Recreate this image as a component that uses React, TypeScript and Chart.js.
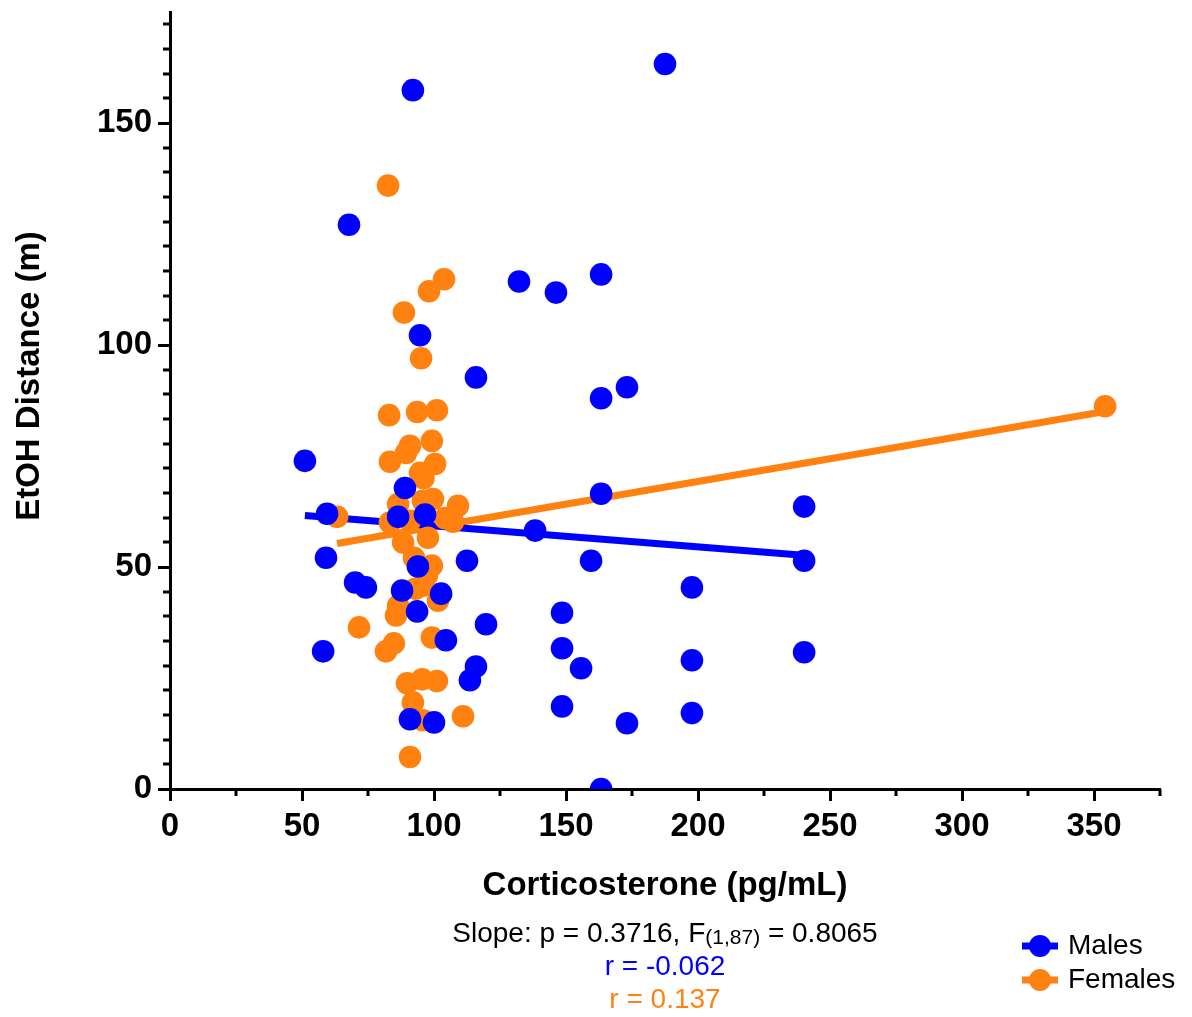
import React, { useEffect, useRef } from 'react';
import { Chart, registerables } from 'chart.js';

Chart.register(...registerables);

// ---------- data ----------
const maleX = [51.1, 59.5, 59.1, 58.0, 67.8, 92.0, 70.1, 74.2, 89.0, 86.4, 96.6, 87.9, 93.9, 93.6, 102.7, 90.9, 100.0, 104.5, 94.7, 115.9, 112.5, 119.7, 115.9, 113.6, 132.2, 146.2, 138.3, 148.5, 148.5, 148.5, 155.7, 159.5, 163.3, 163.3, 163.3, 163.3, 173.1, 173.1, 187.5, 197.7, 197.7, 197.7, 240.2, 240.2, 240.2];
const maleY = [73.9, 62.0, 52.1, 31.0, 127.1, 157.4, 46.5, 45.4, 67.8, 61.3, 61.8, 44.7, 50.1, 40.0, 44.0, 15.7, 15.0, 33.5, 102.2, 92.7, 51.4, 37.1, 27.6, 24.5, 114.3, 111.8, 58.2, 39.7, 31.7, 18.6, 27.2, 51.4, 115.9, 88.0, 66.5, 0, 90.5, 14.8, 163.3, 45.4, 29.0, 17.1, 63.6, 51.4, 30.8];

const femaleX = [82.6, 103.8, 98.1, 88.6, 95.1, 83.0, 93.6, 101.1, 99.2, 90.9, 89.4, 83.3, 100.4, 94.7, 86.4, 99.6, 109.1, 63.3, 83.3, 107.2, 97.7, 90.9, 92.4, 97.3, 95.8, 101.5, 86.4, 85.6, 71.6, 81.8, 84.8, 99.2, 89.8, 95.5, 101.1, 92.0, 95.8, 111.0, 90.9, 354.2, 95.8, 93.0, 99.2, 88.3, 104.2, 96.0];
const femaleY = [135.9, 114.8, 112.1, 107.3, 97.0, 84.2, 84.9, 85.3, 78.4, 77.3, 75.7, 73.7, 73.2, 71.2, 64.2, 65.3, 63.8, 61.3, 60.0, 60.2, 56.6, 60.4, 52.1, 48.1, 45.8, 42.4, 41.3, 39.1, 36.4, 31.0, 32.8, 34.1, 23.8, 24.7, 24.3, 19.5, 15.5, 16.4, 7.2, 86.2, 64.9, 45.1, 50.3, 55.5, 61.0, 70.0];

const maleFitX = [51.1, 241];
const maleFitY = [61.6, 52.6];
const femaleFitX = [63.3, 353];
const femaleFitY = [55.3, 84.9];

const seriesNames = ['Males', 'Females'];
const xTitle = 'Corticosterone (pg/mL)';
const yTitle = 'EtOH Distance (m)';
const statMain = 'Slope: p = 0.3716, F';
const statSub = '(1,87)';
const statEnd = ' = 0.8065';
const rMales = 'r = -0.062';
const rFemales = 'r = 0.137';

const X_MAX = 375;
const Y_MAX = 175;
const X_MAJOR = 50;
const Y_MAJOR = 50;
const X_MINOR = 25;
const Y_MINOR_DIV = 9;

const BLUE = '#0000FF';
const ORANGE = '#FF8210';
const FONT = "'Liberation Sans', Arial, sans-serif";

const toPts = (xs: number[], ys: number[]) => xs.map((x, i) => ({ x, y: ys[i] }));

const overlay = {
  id: 'overlay',
  afterDraw(chart: any) {
    const ctx = chart.ctx as CanvasRenderingContext2D;
    const xs = chart.scales.x;
    const ys = chart.scales.y;
    const area = chart.chartArea;
    ctx.save();
    // minor ticks
    ctx.strokeStyle = '#000';
    ctx.lineWidth = 3;
    for (let v = X_MINOR; v <= X_MAX + 0.01; v += X_MAJOR) {
      const px = Math.round(xs.getPixelForValue(v));
      ctx.beginPath();
      ctx.moveTo(px, area.bottom);
      ctx.lineTo(px, area.bottom + 7);
      ctx.stroke();
    }
    const ym = Y_MAJOR / Y_MINOR_DIV;
    for (let k = 1; k * ym <= Y_MAX; k++) {
      if (k % Y_MINOR_DIV === 0) continue;
      const py = Math.round(ys.getPixelForValue(k * ym));
      ctx.beginPath();
      ctx.moveTo(area.left - 7, py);
      ctx.lineTo(area.left, py);
      ctx.stroke();
    }
    // y title
    ctx.fillStyle = '#000';
    ctx.font = `bold 33px ${FONT}`;
    ctx.textAlign = 'center';
    ctx.textBaseline = 'middle';
    ctx.save();
    ctx.translate(30, 376);
    ctx.rotate(-Math.PI / 2);
    ctx.fillText(yTitle, 0, 0);
    ctx.restore();

    // stats annotation
    const cx = (area.left + area.right) / 2;
    ctx.textAlign = 'left';
    ctx.textBaseline = 'middle';
    const mainFont = `28px ${FONT}`;
    const subFont = `21px ${FONT}`;
    ctx.font = mainFont;
    const w1 = ctx.measureText(statMain).width;
    const w3 = ctx.measureText(statEnd).width;
    ctx.font = subFont;
    const w2 = ctx.measureText(statSub).width;
    let sx = cx - (w1 + w2 + w3) / 2;
    const sy = 934;
    ctx.font = mainFont;
    ctx.fillText(statMain, sx, sy);
    sx += w1;
    ctx.font = subFont;
    ctx.fillText(statSub, sx, sy + 4);
    sx += w2;
    ctx.font = mainFont;
    ctx.fillText(statEnd, sx, sy);

    ctx.textAlign = 'center';
    ctx.fillStyle = BLUE;
    ctx.fillText(rMales, cx, 967);
    ctx.fillStyle = ORANGE;
    ctx.fillText(rFemales, cx, 1000);

    // legend
    const colors = [BLUE, ORANGE];
    const ly = [946, 980];
    seriesNames.forEach((name, i) => {
      ctx.strokeStyle = colors[i];
      ctx.fillStyle = colors[i];
      ctx.lineWidth = 7;
      ctx.beginPath();
      ctx.moveTo(1022, ly[i]);
      ctx.lineTo(1058, ly[i]);
      ctx.stroke();
      ctx.beginPath();
      ctx.arc(1040, ly[i], 11, 0, Math.PI * 2);
      ctx.fill();
      ctx.fillStyle = '#000';
      ctx.textAlign = 'left';
      ctx.font = mainFont;
      ctx.fillText(name, 1068, ly[i]);
    });
    ctx.restore();
  },
};

export default function App() {
  const ref = useRef<HTMLCanvasElement | null>(null);
  useEffect(() => {
    if (!ref.current) return;
    const chart = new Chart(ref.current, {
      type: 'scatter',
      data: {
        datasets: [
          {
            label: seriesNames[0],
            data: toPts(maleX, maleY),
            backgroundColor: BLUE,
            borderColor: BLUE,
            pointRadius: 11.3,
            pointBorderWidth: 0,
            pointHoverRadius: 11.3,
          },
          {
            label: seriesNames[1],
            data: toPts(femaleX, femaleY),
            backgroundColor: ORANGE,
            borderColor: ORANGE,
            pointRadius: 11.3,
            pointBorderWidth: 0,
            pointHoverRadius: 11.3,
          },
          {
            label: 'Males fit',
            data: toPts(maleFitX, maleFitY),
            showLine: true,
            borderColor: BLUE,
            borderWidth: 7,
            pointRadius: 0,
            borderCapStyle: 'butt',
          } as any,
          {
            label: 'Females fit',
            data: toPts(femaleFitX, femaleFitY),
            showLine: true,
            borderColor: ORANGE,
            borderWidth: 7,
            pointRadius: 0,
            borderCapStyle: 'butt',
          } as any,
        ],
      },
      options: {
        responsive: false,
        animation: false,
        devicePixelRatio: 1,
        layout: { padding: { left: 0, right: 32, top: 12, bottom: 111 } },
        plugins: { legend: { display: false }, tooltip: { enabled: false } },
        scales: {
          x: {
            type: 'linear',
            min: 0,
            max: X_MAX,
            afterFit: (s: any) => {
              s.height = 117;
              s.paddingLeft = 0;
              s.paddingRight = 0;
            },
            ticks: {
              stepSize: X_MAJOR,
              includeBounds: false,
              color: '#000',
              padding: 6,
              maxRotation: 0,
              font: { family: FONT, size: 33, weight: 'bold' },
            },
            grid: {
              drawOnChartArea: false,
              drawTicks: true,
              tickLength: 12,
              tickWidth: 3,
              tickColor: '#000',
            },
            border: { display: true, color: '#000', width: 3 },
            title: {
              display: true,
              text: xTitle,
              color: '#000',
              padding: { top: 0, bottom: 0 },
              font: { family: FONT, size: 33, weight: 'bold' },
            },
          },
          y: {
            type: 'linear',
            min: 0,
            max: Y_MAX,
            afterFit: (s: any) => {
              s.width = 170;
              s.paddingTop = 0;
              s.paddingBottom = 0;
            },
            ticks: {
              stepSize: Y_MAJOR,
              includeBounds: false,
              color: '#000',
              padding: 6,
              font: { family: FONT, size: 33, weight: 'bold' },
            },
            grid: {
              drawOnChartArea: false,
              drawTicks: true,
              tickLength: 12,
              tickWidth: 3,
              tickColor: '#000',
            },
            border: { display: true, color: '#000', width: 3 },
          },
        },
      } as any,
      plugins: [overlay],
    });
    return () => chart.destroy();
  }, []);
  return (
    <div style={{ position: 'absolute', left: 0, top: 0, width: 1192, height: 1017, background: '#fff' }}>
      <canvas ref={ref} width={1192} height={1017} style={{ width: 1192, height: 1017, display: 'block' }} />
    </div>
  );
}
